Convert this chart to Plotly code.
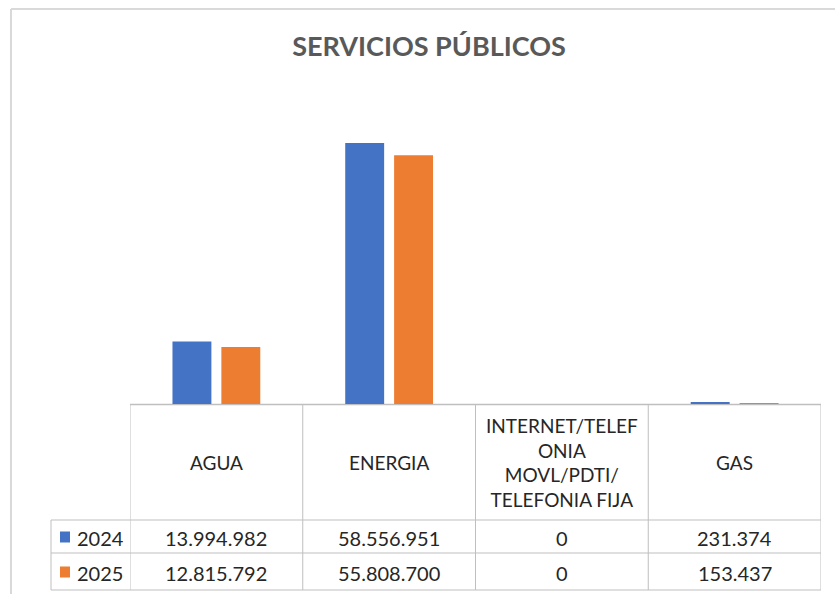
import plotly.graph_objects as go

categories = ["AGUA", "ENERGIA", "INTERNET/TELEFONIA MOVL/PDTI/TELEFONIA FIJA", "GAS"]
header_labels = ["AGUA", "ENERGIA", "INTERNET/TELEF<br>ONIA<br>MOVL/PDTI/<br>TELEFONIA FIJA", "GAS"]
series_names = ["2024", "2025"]
values_2024 = [13994982, 58556951, 0, 231374]
values_2025 = [12815792, 55808700, 0, 153437]
colors = ["#4472C4", "#ED7D31"]

W, H = 835, 594
ML, MR, MT, MB = 130, 14, 92, 190
PW, PH = W - ML - MR, H - MT - MB

def px_x(px):
    return (px - ML) / PW

def px_y(py):
    return (H - MB - py) / PH

def fmt(v):
    return f"{v:,}".replace(",", ".")

fig = go.Figure()
for name, vals, col in zip(series_names, [values_2024, values_2025], colors):
    fig.add_trace(go.Bar(x=categories, y=vals, name=name, marker=dict(color=col, line=dict(width=0)),
                         hoverinfo="skip"))

FONT = "Lato"
TXT = "#262626"
LINE = "#bfbfbf"

shapes = []
ann = []

# outer chart frame (top & left visible)
shapes.append(dict(type="line", xref="paper", yref="paper", x0=px_x(11), x1=px_x(835), y0=px_y(9), y1=px_y(9),
                   line=dict(color="#d9d9d9", width=2)))
shapes.append(dict(type="line", xref="paper", yref="paper", x0=px_x(11), x1=px_x(11), y0=px_y(9), y1=px_y(594),
                   line=dict(color="#d9d9d9", width=2)))

# table geometry
t_top, r1, r2, r3 = 404, 520, 553, 590
leg_left = 51
n = len(categories)
for i in range(n + 1):
    shapes.append(dict(type="line", xref="x", yref="paper", x0=i - 0.5, x1=i - 0.5, y0=px_y(t_top), y1=px_y(r3),
                       line=dict(color=LINE, width=1)))
shapes.append(dict(type="line", xref="paper", yref="paper", x0=px_x(leg_left), x1=px_x(leg_left), y0=px_y(r1), y1=px_y(r3),
                   line=dict(color=LINE, width=1)))
shapes.append(dict(type="line", xref="paper", yref="paper", x0=0, x1=1, y0=px_y(t_top + 0.5), y1=px_y(t_top + 0.5),
                   line=dict(color=LINE, width=1.5), layer="below"))
for yy in [r1, r2, r3]:
    shapes.append(dict(type="line", xref="paper", yref="paper", x0=px_x(leg_left), x1=1, y0=px_y(yy), y1=px_y(yy),
                       line=dict(color=LINE, width=1)))

for i, lab in enumerate(header_labels):
    ann.append(dict(x=i, y=px_y((t_top + r1) / 2), xref="x", yref="paper", text=lab, showarrow=False,
                    font=dict(family=FONT, size=19, color=TXT), align="center", xanchor="center", yanchor="middle"))

row_centers = [(r1 + r2) / 2 + 1, (r2 + r3) / 2 + 1]
for name, vals, col, yc in zip(series_names, [values_2024, values_2025], colors, row_centers):
    for i, v in enumerate(vals):
        ann.append(dict(x=i, y=px_y(yc), xref="x", yref="paper", text=fmt(v), showarrow=False,
                        font=dict(family=FONT, size=20, color=TXT), xanchor="center", yanchor="middle"))
    shapes.append(dict(type="rect", xref="paper", yref="paper", x0=px_x(60), x1=px_x(70), y0=px_y(yc - 6), y1=px_y(yc + 5),
                       fillcolor=col, line=dict(width=0)))
    ann.append(dict(x=px_x(75), y=px_y(yc), xref="paper", yref="paper", text=name, showarrow=False,
                    font=dict(family=FONT, size=20, color=TXT), xanchor="left", yanchor="middle"))

fig.update_layout(
    width=W, height=H,
    margin=dict(l=ML, r=MR, t=MT, b=MB),
    paper_bgcolor="white", plot_bgcolor="rgba(0,0,0,0)",
    barmode="group", bargap=0.434, bargroupgap=0.204,
    showlegend=False,
    title=dict(text="<b>SERVICIOS PÚBLICOS</b>", x=429 / W, xref="container", xanchor="center",
               y=1 - 47 / H, yref="container", yanchor="middle",
               font=dict(family=FONT, size=27, color="#595959")),
    xaxis=dict(showticklabels=False, showline=False, showgrid=False, zeroline=False, range=[-0.5, n - 0.5]),
    yaxis=dict(showticklabels=False, showline=False, showgrid=False, zeroline=False, range=[0, 70000000]),
    shapes=shapes, annotations=ann,
)

fig.write_html("out.html", config={"displayModeBar": False},
               post_script="document.body.style.margin='0';document.body.style.overflow='hidden';")
